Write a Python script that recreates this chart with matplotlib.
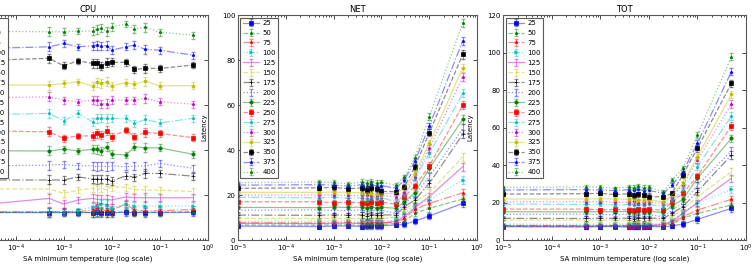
import numpy as np
import matplotlib
matplotlib.use('Agg')
import matplotlib.pyplot as plt

# temperaturas minimas do SA
temps = [1e-5, 5e-4, 1e-3, 2e-3, 4e-3, 5e-3, 6e-3, 8e-3, 1e-2, 2e-2, 3e-2, 5e-2, 1e-1, 5e-1]
labels = ['25', '50', '75', '100', '125', '150', '175', '200',
          '225', '250', '275', '300', '325', '350', '375', '400']

cpu = [
    [12.2, 12.2, 12.2, 12.2, 12.2, 12.3, 12.2, 12.2, 12.2, 12.3, 12.2, 12.2, 12.2, 12.3],
    [12.3, 12.3, 12.3, 12.4, 12.2, 12.5, 12.3, 12.4, 12.3, 12.6, 12.4, 12.5, 12.4, 12.6],
    [12.6, 12.6, 12.6, 12.6, 13.3, 14.1, 13.0, 13.3, 13.3, 16.0, 13.3, 13.0, 13.0, 13.6],
    [12.6, 12.3, 12.6, 13.0, 14.8, 15.1, 15.9, 15.6, 14.1, 16.0, 15.2, 15.2, 15.2, 15.2],
    [15.1, 18.5, 16.0, 17.8, 18.5, 18.1, 18.1, 18.1, 17.8, 19.2, 18.8, 18.8, 18.8, 18.8],
    [22.7, 22.7, 20.8, 22.2, 23.0, 22.2, 23.2, 22.2, 23.7, 23.4, 22.5, 22.2, 22.2, 21.5],
    [26.7, 26.7, 26.7, 28.1, 27.1, 27.1, 27.1, 27.1, 26.2, 28.6, 27.9, 29.6, 29.6, 28.4],
    [32.9, 33.3, 33.6, 33.0, 33.0, 32.6, 33.0, 32.6, 33.0, 32.6, 32.9, 32.9, 34.1, 31.9],
    [39.7, 39.6, 40.4, 39.7, 40.3, 40.3, 39.7, 41.5, 38.2, 37.8, 41.5, 41.0, 41.0, 38.1],
    [48.6, 48.1, 45.2, 46.4, 46.2, 47.4, 46.7, 48.6, 45.9, 48.9, 45.9, 47.9, 47.4, 45.5],
    [55.6, 56.3, 53.0, 56.3, 52.6, 54.1, 54.1, 54.1, 54.1, 54.1, 51.9, 53.6, 52.1, 54.1],
    [63.0, 63.7, 62.2, 61.5, 62.2, 62.2, 60.4, 60.7, 62.2, 62.2, 62.2, 63.0, 61.5, 60.4],
    [68.9, 68.9, 69.6, 70.4, 68.4, 70.1, 69.6, 70.4, 68.6, 70.0, 69.3, 70.7, 68.6, 68.6],
    [79.6, 80.8, 77.5, 79.7, 78.5, 78.5, 77.3, 78.8, 79.0, 79.0, 75.9, 76.3, 76.3, 77.8],
    [85.0, 85.9, 87.4, 85.9, 86.4, 86.7, 86.4, 86.4, 84.4, 85.9, 86.7, 84.8, 84.4, 82.2],
    [92.8, 92.6, 92.6, 92.9, 92.9, 93.8, 94.2, 92.9, 94.7, 96.0, 93.8, 94.7, 92.4, 91.1],
]

net = [
    [6.2, 6.0, 6.2, 6.3, 6.0, 6.2, 6.2, 6.3, 6.3, 6.7, 7.0, 8.4, 10.7, 16.3],
    [6.7, 6.6, 6.7, 6.7, 6.5, 6.7, 6.7, 6.8, 6.8, 7.4, 8.1, 11.9, 14.1, 18.2],
    [7.7, 7.6, 7.7, 7.8, 7.6, 7.7, 7.8, 7.7, 7.7, 7.9, 9.6, 13.6, 16.3, 21.0],
    [8.4, 8.3, 8.4, 8.5, 8.3, 8.4, 8.5, 8.4, 8.4, 8.9, 11.9, 15.6, 17.8, 26.7],
    [7.4, 7.3, 7.4, 7.5, 7.3, 7.4, 7.4, 7.5, 7.4, 8.4, 10.4, 14.5, 19.3, 32.6],
    [9.6, 9.6, 9.7, 9.5, 9.6, 9.6, 9.7, 9.6, 9.6, 10.1, 13.3, 17.0, 21.0, 37.0],
    [11.1, 11.0, 11.2, 11.0, 11.2, 10.8, 11.3, 11.0, 11.2, 11.1, 14.8, 17.8, 25.2, 47.0],
    [13.3, 13.4, 13.2, 13.1, 13.5, 13.0, 13.4, 13.2, 13.2, 11.9, 16.3, 20.0, 28.1, 49.6],
    [14.5, 14.4, 14.6, 14.5, 14.6, 14.2, 14.7, 14.4, 14.6, 14.1, 17.0, 21.0, 31.9, 53.6],
    [17.0, 17.0, 16.6, 16.8, 16.6, 16.4, 17.0, 16.6, 16.8, 16.0, 19.3, 24.0, 33.0, 60.0],
    [19.0, 18.8, 19.0, 18.6, 18.8, 18.4, 18.9, 18.6, 18.8, 17.0, 20.0, 27.4, 38.5, 65.2],
    [20.0, 20.0, 20.1, 19.8, 19.8, 20.2, 19.6, 19.4, 19.8, 19.3, 21.5, 28.1, 40.7, 72.6],
    [21.2, 21.2, 21.3, 21.2, 21.0, 21.0, 20.8, 20.4, 20.6, 20.7, 23.0, 29.6, 43.0, 76.6],
    [23.0, 23.2, 23.4, 22.8, 23.2, 22.4, 23.0, 22.6, 21.6, 21.5, 23.7, 32.6, 47.7, 82.5],
    [24.4, 24.6, 24.4, 24.0, 24.6, 24.2, 24.8, 24.0, 24.2, 23.0, 26.7, 35.1, 50.7, 88.6],
    [25.5, 25.8, 25.6, 25.0, 25.8, 25.2, 26.0, 25.4, 25.6, 24.4, 28.1, 36.6, 54.8, 96.6],
]

tot = [
    [7.1, 7.0, 7.1, 7.2, 6.9, 7.1, 7.1, 7.2, 7.2, 7.1, 7.5, 8.5, 11.0, 16.9],
    [7.3, 7.2, 7.3, 7.3, 7.1, 7.3, 7.3, 7.4, 7.4, 7.5, 8.5, 11.6, 14.2, 18.7],
    [7.8, 7.7, 7.8, 7.9, 7.7, 7.8, 7.9, 7.8, 7.8, 8.0, 9.2, 12.4, 16.0, 21.7],
    [8.5, 8.4, 8.5, 8.6, 8.4, 8.5, 8.6, 8.5, 8.5, 8.9, 10.7, 14.6, 19.6, 27.0],
    [7.6, 7.5, 7.6, 7.7, 7.5, 7.6, 7.6, 7.7, 7.6, 8.5, 9.8, 14.2, 19.9, 32.9],
    [10.7, 10.7, 10.8, 10.6, 10.7, 10.7, 10.8, 10.7, 10.7, 10.7, 12.4, 16.4, 23.1, 36.4],
    [11.6, 11.5, 11.7, 11.5, 11.7, 11.3, 11.8, 11.5, 11.7, 11.6, 14.2, 17.8, 25.8, 45.3],
    [13.7, 13.8, 13.6, 13.5, 13.9, 13.4, 13.8, 13.6, 13.6, 12.4, 16.0, 19.6, 29.3, 47.5],
    [15.1, 15.0, 15.2, 15.1, 15.2, 14.8, 15.3, 15.0, 15.2, 14.8, 18.1, 21.7, 32.9, 54.2],
    [16.5, 16.5, 16.1, 16.3, 16.1, 15.9, 16.5, 16.1, 16.3, 16.0, 20.4, 24.9, 34.1, 60.8],
    [19.2, 19.0, 19.2, 18.8, 19.0, 18.6, 19.1, 18.8, 19.0, 17.8, 21.3, 26.7, 39.1, 66.1],
    [20.4, 20.4, 20.5, 20.2, 20.2, 20.6, 20.0, 19.8, 20.2, 19.6, 23.1, 29.3, 42.7, 72.5],
    [21.9, 21.9, 22.0, 21.9, 21.7, 21.7, 21.5, 21.1, 21.3, 20.4, 24.0, 30.2, 44.4, 77.7],
    [24.5, 24.7, 24.9, 24.3, 24.7, 23.9, 24.5, 24.1, 23.1, 23.1, 24.9, 34.7, 48.9, 83.6],
    [26.7, 26.9, 26.7, 26.3, 26.9, 26.5, 27.1, 26.3, 26.5, 24.9, 29.3, 36.4, 51.6, 89.8],
    [28.1, 28.4, 28.2, 27.6, 28.4, 27.8, 28.6, 28.0, 28.2, 25.8, 32.0, 38.2, 56.0, 97.8],
]

# barras de erro tipicas por temperatura
cpu_err = [1.2, 2.0, 1.6, 1.4, 1.8, 2.0, 1.8, 2.0, 1.8, 1.5, 1.6, 2.0, 1.6, 1.5]
net_err = [0.8, 1.1, 1.0, 0.9, 1.2, 1.3, 1.3, 1.2, 1.2, 0.9, 1.0, 1.3, 1.5, 1.8]
tot_err = [0.8, 1.1, 1.0, 0.9, 1.2, 1.3, 1.3, 1.2, 1.2, 0.9, 1.0, 1.4, 1.7, 2.0]

colors = ['b', 'g', 'r', 'c', 'm', 'y', 'k']
styles = ['-', '--', '-.', ':']
markers = ['s', '*', '*', '>', '', '', '+', '', 'o', 's', '*', '*', 'h', 's', '*', '*']

plt.rcParams['font.family'] = 'DejaVu Sans'
plt.rcParams['font.size'] = 5

fig = plt.figure(figsize=(7.52, 2.7), dpi=100)
fig.patch.set_facecolor('white')

panels = [
    ('CPU', cpu, cpu_err, [-0.043, 0.111, 0.319, 0.833], 100),
    ('NET', net, net_err, [0.3165, 0.111, 0.318, 0.833], 100),
    ('TOT', tot, tot_err, [0.669, 0.111, 0.323, 0.833], 120),
]

for title, data, err, pos, ymax in panels:
    ax = fig.add_axes(pos)
    handles = []
    for i, ys in enumerate(data):
        c = colors[i % 7]
        ls = styles[i % 4]
        eb = ax.errorbar(temps, ys, yerr=err, color=c, ls=ls, lw=0.9,
                         elinewidth=0.7, capsize=1.3, alpha=0.45)
        mk, = ax.plot(temps, ys, ls='none', marker=markers[i] or None,
                      color=c, ms=2.4, mec=c, mew=0.5)
        handles.append((eb, mk))
    ax.set_xscale('log')
    ax.set_xlim(1e-5, 1)
    ax.set_ylim(0, ymax)
    ax.set_title(title, fontsize=6, pad=2)
    ax.set_xlabel('SA minimum temperature (log scale)', fontsize=5, labelpad=1)
    ax.set_ylabel('Latency', fontsize=5, labelpad=10)
    ax.tick_params(which='both', direction='in', top=True, right=True,
                   labelsize=5, pad=2)
    ax.tick_params(which='major', length=3, width=0.5)
    ax.tick_params(which='minor', length=1.5, width=0.5)
    for sp in ax.spines.values():
        sp.set_linewidth(0.8)
        sp.set_color('0.35')
    leg = ax.legend(handles, labels, loc='upper left', fontsize=5,
                    labelspacing=0.57, handlelength=2.3, handletextpad=0.5,
                    borderpad=0.35, borderaxespad=0.35, fancybox=False,
                    framealpha=1)
    leg.get_frame().set_edgecolor('0.35')
    leg.get_frame().set_linewidth(0.8)

plt.savefig('out.png', dpi=100, facecolor='white')
